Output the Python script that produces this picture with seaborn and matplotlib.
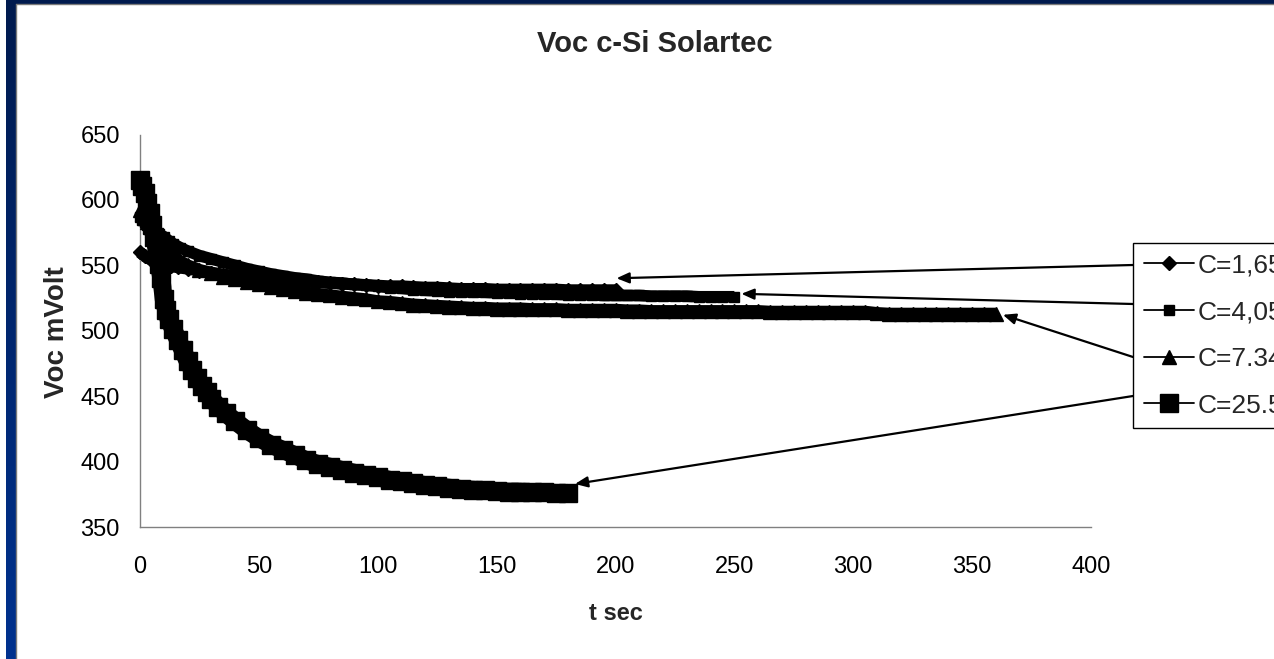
import numpy as np
import matplotlib
matplotlib.use('Agg')
import matplotlib.pyplot as plt
import seaborn as sns
from matplotlib.colors import LinearSegmentedColormap
from matplotlib.patches import Rectangle
from matplotlib.transforms import offset_copy

# ---------------- data ----------------
title = "Voc c-Si Solartec"
x_label = "t sec"
y_label = "Voc mVolt"
x_ticks = [0, 50, 100, 150, 200, 250, 300, 350, 400]
y_ticks = [350, 400, 450, 500, 550, 600, 650]
labels = ["C=1,65", "C=4,05", "C=7.34", "C=25.5"]

s1_t = [0, 2, 4, 6, 8, 10, 13, 16, 20, 25, 30, 35, 40, 45, 50, 55, 60, 65, 70, 75,
        80, 85, 90, 95, 100, 105, 110, 115, 120, 125, 130, 135, 140, 145, 150, 155,
        160, 165, 170, 175, 180, 185, 190, 195, 200]
s1_v = [560, 557, 555, 553.5, 552, 551, 549.5, 548.5, 547.5, 546, 544.5, 543, 542, 541,
        540, 539, 538.5, 538, 537.5, 537, 536.5, 536, 535.5, 535, 534.5, 534, 534, 533.5,
        533, 533, 532.5, 532, 532, 532, 531.5, 531.5, 531.5, 531.5, 531.5, 531.5, 531,
        531, 531, 531, 531]

s2_t = [0, 1, 2, 3, 4, 5, 6, 8, 10, 12, 14, 17, 20, 25, 30, 35, 40, 45, 50, 55, 60, 65,
        70, 75, 80, 85, 90, 95, 100, 105, 110, 115, 120, 125, 130, 135, 140, 145, 150,
        155, 160, 165, 170, 175, 180, 185, 190, 195, 200, 205, 210, 215, 220, 225, 230,
        235, 240, 245, 250]
s2_v = [587, 585, 583, 581, 579.5, 578, 576.5, 574, 572, 569, 566.5, 563.5, 561, 557.5,
        555, 552.5, 550, 547.5, 545.5, 543.5, 542, 540.5, 539.5, 538, 537, 536.5, 535.5,
        535, 534, 533, 532.5, 531.5, 531, 530.5, 530, 530, 529.5, 529.5, 529, 529, 528.5,
        528.5, 528, 528, 527.5, 527.5, 527.5, 527, 527, 527, 527, 526.5, 526.5, 526.5,
        526.5, 526, 526, 526, 526]

s3_t = [0, 1, 2, 3, 4, 5, 6, 8, 10, 12, 14, 17, 20, 25, 30, 35, 40, 45, 50, 55, 60, 65,
        70, 75, 80, 85, 90, 95, 100, 105, 110, 115, 120, 125, 130, 135, 140, 145, 150,
        155, 160, 165, 170, 175, 180, 185, 190, 195, 200, 205, 210, 215, 220, 225, 230,
        235, 240, 245, 250, 255, 260, 265, 270, 275, 280, 285, 290, 295, 300, 305, 310,
        315, 320, 325, 330, 335, 340, 345, 350, 355, 360]
s3_v = [592, 589, 586, 583, 580, 577, 574.5, 569, 564, 560, 557, 553, 550, 546.5, 544,
        541.5, 539.5, 537.5, 535.5, 533.5, 532, 530.5, 529, 528, 527, 526, 525, 524,
        522.5, 522, 521, 520, 519.5, 519, 518.5, 518, 517.5, 517.5, 517, 517, 517, 516.5,
        516.5, 516.5, 516, 516, 516, 516, 516, 515.5, 515.5, 515, 515, 515, 515, 515, 515,
        515, 515, 515, 515, 514.5, 514.5, 514.5, 514.5, 514.5, 514.5, 514.5, 514.5, 514.5,
        513.5, 513, 513, 513, 513, 513, 513, 513, 513, 513, 513]

s4_t = [0, 1, 2, 3, 4, 5, 6, 7, 8, 9, 10, 11, 12, 14, 16, 18, 20, 22, 24, 26, 28, 30,
        33, 36, 40, 45, 50, 55, 60, 65, 70, 75, 80, 85, 90, 95, 100, 105, 110, 115, 120,
        125, 130, 135, 140, 145, 150, 155, 160, 165, 170, 175, 180]
s4_v = [615, 611, 605, 598, 590, 581, 572, 562, 551, 540, 524, 516, 509, 501, 493, 485,
        477, 470, 464, 458, 453, 448, 442, 437, 431, 424, 418, 413, 409, 405, 401, 398,
        396, 393.5, 391.5, 389.5, 388, 386, 385, 383.5, 382, 381, 380, 379, 378.5, 378,
        377.5, 377, 377, 376.5, 376.5, 376, 376]

# ---------------- styling ----------------
sns.set_style('white')
plt.rcParams['font.family'] = ['Liberation Sans', 'DejaVu Sans']

W, H = 1274, 659
fig = plt.figure(figsize=(W / 100, H / 100), dpi=100)

# navy frame with gradient
bg = fig.add_axes([0, 0, 1, 1], zorder=-10)
bg.set_axis_off()
bg.set_xlim(0, 1)
bg.set_ylim(0, 1)
grad = np.linspace(0, 1, 256).reshape(-1, 1)
cmap = LinearSegmentedColormap.from_list('navy', ['#001a4e', '#00328f'])
bg.imshow(grad, extent=[0, 1, 0, 1], aspect='auto', cmap=cmap, origin='upper')
bg.add_patch(Rectangle((0, 0), 6 / W, 1, facecolor='white', edgecolor='none'))
bg.add_patch(Rectangle((16 / W, 0), 1 - 16 / W, 1 - 4 / H, facecolor='white', edgecolor='none'))
bg.plot([16 / W, 16 / W], [0, 1 - 4 / H], color='#7a7a7a', lw=1)
bg.plot([16 / W, 1], [1 - 4 / H, 1 - 4 / H], color='#7a7a7a', lw=1)

ax = fig.add_axes([140 / W, 1 - 527 / H, (1091 - 140) / W, (527 - 134.6) / H])
ax.set_facecolor('none')

series = [(s1_t, s1_v), (s2_t, s2_v), (s3_t, s3_v), (s4_t, s4_v)]
markers = ['D', 's', '^', 's']
msizes = [7.6, 7.8, 9.5, 13.0]
band_lw = [8.6, 8.4, 8.8, 13.0]

handles = []
for (t, v), m, ms, blw, lab in zip(series, markers, msizes, band_lw, labels):
    sns.lineplot(x=t, y=v, ax=ax, color='black', linewidth=blw, legend=False,
                 sort=False, estimator=None, solid_capstyle='butt', clip_on=False,
                 zorder=2)
    sns.lineplot(x=t, y=v, ax=ax, color='black', linewidth=1.3, legend=False,
                 sort=False, estimator=None, marker=m, markersize=ms,
                 markerfacecolor='black', markeredgecolor='black', markeredgewidth=1,
                 clip_on=False, zorder=3)
    line = ax.lines[-1]
    line.set_label(lab)
    handles.append(line)

ax.set_xlim(x_ticks[0], x_ticks[-1])
ax.set_ylim(y_ticks[0], y_ticks[-1])
ax.set_xticks(x_ticks)
ax.set_yticks(y_ticks)
for side in ['top', 'right']:
    ax.spines[side].set_visible(False)
for side in ['left', 'bottom']:
    ax.spines[side].set_color('#808080')
    ax.spines[side].set_linewidth(1.0)
ax.tick_params(axis='both', direction='out', length=5.5, width=1, color='#606060',
               labelsize=17, labelcolor='black')
ax.tick_params(axis='x', pad=15.5)
ax.tick_params(axis='y', pad=9)
ax.grid(False)

ax.set_xlabel(x_label, fontsize=17, fontweight='bold')
ax.xaxis.set_label_coords((616 - 140) / 951, (527 - 614) / 392.4)
ax.xaxis.label.set_va('center')
ax.set_ylabel(y_label, fontsize=20, fontweight='bold')
ax.yaxis.set_label_coords((57.5 - 140) / 951, (527 - 332) / 392.4)
ax.yaxis.label.set_va('center')
ax.set_title(title, fontsize=21, fontweight='bold', x=(655 - 140) / 951,
             y=(527 - 52) / 392.4, va='center')

leg = fig.legend(handles, labels, loc='upper left',
                 bbox_to_anchor=(1133 / W, 1 - 243 / H), bbox_transform=fig.transFigure,
                 borderaxespad=0, frameon=True, fancybox=False, edgecolor='black',
                 framealpha=1, fontsize=19, handlelength=1.9, handletextpad=0.15,
                 borderpad=0.4, labelspacing=0.86, numpoints=1)
leg.get_frame().set_linewidth(1.0)

# arrows from the legend to the end of each series
head_off = [(1, 12), (7, 3), (7, -1), (7, 9)]
tails = [(1133, 265), (1133, 304), (1133, 357), (1133, 396)]
for (t, v), (dx, dy), (tx, ty) in zip(series, head_off, tails):
    ax.annotate('', xy=(t[-1], v[-1]),
                xycoords=offset_copy(ax.transData, fig=fig, x=dx, y=dy, units='dots'),
                xytext=(tx / W, 1 - ty / H), textcoords='figure fraction',
                arrowprops=dict(arrowstyle='-|>,head_length=0.75,head_width=0.32',
                                mutation_scale=10, color='black', lw=1.6,
                                shrinkA=0, shrinkB=0),
                annotation_clip=False, zorder=5)

fig.savefig('out.png', dpi=100)
